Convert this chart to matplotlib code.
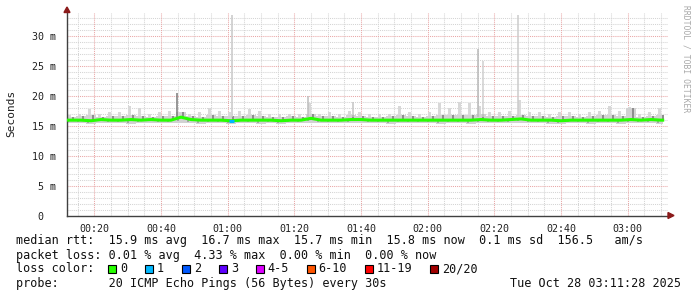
import matplotlib.pyplot as plt
import numpy as np
from matplotlib.patches import Rectangle, Polygon

# ---- data (minutes after midnight, values in ms) ----
bin_start = np.arange(11.5, 191.5, 3)   # 3 minute bins
bin_end_last = 190.5

median = [15.9, 15.9, 15.8, 16.0, 15.9, 15.9, 16.0, 15.9, 16.0, 15.9,
          15.9, 16.4, 16.0, 15.9, 15.9, 15.9, 15.8, 15.9, 15.9, 15.9,
          15.9, 15.8, 15.9, 15.9, 16.2, 15.9, 15.9, 15.9, 16.0, 16.0,
          15.9, 15.9, 15.9, 15.9, 15.9, 15.9, 15.9, 15.9, 15.9, 15.9,
          15.9, 16.0, 15.9, 15.9, 16.0, 16.1, 15.9, 15.9, 15.9, 15.8,
          15.9, 15.9, 15.9, 15.9, 15.9, 15.9, 16.0, 15.9, 16.0, 15.9]

smoke_hi = [16.8, 16.9, 17.7, 17.0, 17.2, 17.3, 18.2, 18.0, 17.0, 17.3,
            17.5, 17.3, 17.0, 17.2, 18.0, 17.5, 17.3, 17.5, 17.7, 17.5,
            17.0, 16.9, 17.0, 17.0, 18.8, 17.0, 17.2, 17.0, 17.4, 17.3,
            17.0, 16.9, 17.0, 18.2, 17.3, 17.0, 17.3, 18.7, 18.0, 18.9,
            18.8, 18.2, 17.3, 17.2, 17.5, 19.3, 17.2, 17.3, 17.0, 17.2,
            17.2, 17.0, 17.3, 17.4, 18.3, 17.4, 18.1, 17.0, 17.2, 18.0]

smoke_mid = [16.5, 16.6, 16.7, 16.5, 16.6, 16.6, 16.7, 16.6, 16.5, 16.6,
             16.6, 17.3, 16.6, 16.5, 16.7, 16.6, 16.6, 16.6, 16.7, 16.6,
             16.5, 16.5, 16.6, 16.5, 16.9, 16.6, 16.6, 16.5, 16.7, 16.6,
             16.5, 16.5, 16.6, 16.7, 16.6, 16.5, 16.6, 16.7, 16.7, 16.8,
             16.7, 16.9, 16.6, 16.6, 16.6, 16.8, 16.6, 16.6, 16.5, 16.6,
             16.6, 16.5, 16.6, 16.7, 16.7, 16.6, 17.9, 16.5, 16.6, 16.7]

smoke_lo = [15.4, 15.4, 15.3, 15.5, 15.4, 15.4, 15.3, 15.4, 15.5, 15.4,
            15.4, 15.5, 15.4, 15.3, 15.4, 15.4, 15.2, 15.4, 15.4, 15.3,
            15.4, 15.3, 15.4, 15.4, 15.5, 15.4, 15.4, 15.4, 15.4, 15.5,
            15.4, 15.4, 15.3, 15.4, 15.4, 15.4, 15.4, 15.3, 15.4, 15.4,
            15.3, 15.4, 15.4, 15.4, 15.4, 15.5, 15.4, 15.4, 15.3, 15.3,
            15.4, 15.4, 15.3, 15.4, 15.4, 15.3, 15.4, 15.4, 15.4, 15.3]

loss = [0] * 60
loss[16] = 1

spike_t = [44.8, 61.3, 84.1, 97.5, 135.0, 136.7, 147.0]
spike_top = [20.5, 33.5, 19.9, 19.0, 27.8, 25.7, 33.5]
spike_col = ['#7a7a7a', '#c8c8c8', '#bdbdbd', '#c4c4c4', '#b8b8b8', '#cfcfcf', '#cccccc']

loss_labels = ['0', '1', '2', '3', '4-5', '6-10', '11-19', '20/20']
loss_colors = ['#26ff00', '#00b8ff', '#0059ff', '#5e00ff', '#dd00ff',
               '#ff5500', '#ff0000', '#a10000']

xmin, xmax = 11.8, 192.1
ymin, ymax = 0, 33.85

W, H = 697, 297
fig = plt.figure(figsize=(W / 100, H / 100), dpi=100)
ax = fig.add_axes([67 / W, (H - 215.5) / H, 601 / W, 203 / H])
ax.set_xlim(xmin, xmax)
ax.set_ylim(ymin, ymax)

# grid
for t in np.arange(15, 192, 5):
    if t % 20 == 0:
        continue
    ax.axvline(t, color='#d4d4d4', lw=0.75, ls=(0, (1, 1)), zorder=0)
for v in range(1, 34):
    if v % 5 == 0:
        continue
    ax.axhline(v, color='#d4d4d4', lw=0.75, ls=(0, (1, 1)), zorder=0)
for t in range(20, 192, 20):
    ax.axvline(t, color='#e9a6a6', lw=0.75, ls=(0, (1, 1)), zorder=0)
for v in range(5, 34, 5):
    ax.axhline(v, color='#e9a6a6', lw=0.75, ls=(0, (1, 1)), zorder=0)

# smoke
xs = np.append(bin_start, bin_end_last)
def ext(a):
    return np.append(a, a[-1])
ax.fill_between(xs, ext(smoke_lo), ext(smoke_mid), step='post',
                color='#d2d2d2', lw=0, zorder=1)
centers = bin_start + 1.5
ax.bar(centers - 0.4, np.array(smoke_hi) - np.array(smoke_mid), width=1.0,
       bottom=smoke_mid, color='#d8d8d8', lw=0, zorder=1)
ax.bar(centers + 0.6, np.array(smoke_mid) - np.array(median), width=0.7,
       bottom=median, color='#8e8e8e', lw=0, zorder=1)
ax.bar(centers - 0.9, np.array(median) - np.array(smoke_lo) - 0.2, width=0.6,
       bottom=np.array(smoke_lo) + 0.2, color='#a6a6a6', lw=0, zorder=1)
for t, top, c in zip(spike_t, spike_top, spike_col):
    ax.plot([t, t], [16.5, top], color=c, lw=1.1, zorder=1,
            solid_capstyle='butt')

# median coloured by loss
mx = np.concatenate([[bin_start[0]], centers, [bin_end_last]])
my = np.concatenate([[median[0]], median, [median[-1]]])
ax.plot(mx, my, color=loss_colors[0], lw=2.2, zorder=3)
for i, l in enumerate(loss):
    if l > 0:
        ax.plot([bin_start[i] + 0.8, bin_start[i] + 2.4], [median[i], median[i]],
                color=loss_colors[l], lw=2.2, zorder=4, solid_capstyle='butt')

# axes styling
for s in ['top', 'right']:
    ax.spines[s].set_visible(False)
for s in ['left', 'bottom']:
    ax.spines[s].set_color('#404040')
    ax.spines[s].set_linewidth(1.0)
ax.spines['bottom'].set_bounds(xmin, xmax - 0.3)

xt = list(range(20, 191, 20))
ax.set_xticks(xt)
ax.set_xticklabels(['%02d:%02d' % (t // 60, t % 60) for t in xt])
yt = list(range(0, 31, 5))
ax.set_yticks(yt)
ax.set_yticklabels(['0  '] + ['%d m' % v for v in yt[1:]])
ax.tick_params(axis='both', length=0, labelsize=7.2, colors='#202020')
ax.tick_params(axis='x', pad=6)
ax.tick_params(axis='y', pad=8)
for lab in ax.get_xticklabels() + ax.get_yticklabels():
    lab.set_family('DejaVu Sans Mono')

# arrows
fig.patches.append(Polygon([[64 / W, 1 - 12.5 / H], [70 / W, 1 - 12.5 / H],
                            [67 / W, 1 - 7 / H]], closed=True,
                           transform=fig.transFigure, color='#8b1a1a'))
fig.patches.append(Polygon([[668 / W, 1 - 212.5 / H], [668 / W, 1 - 218.5 / H],
                            [674 / W, 1 - 215.5 / H]], closed=True,
                           transform=fig.transFigure, color='#8b1a1a'))

fig.text(11 / W, 1 - 113 / H, 'Seconds', rotation=90, ha='center', va='center',
         family='DejaVu Sans Mono', fontsize=8, color='#202020')
fig.text(686 / W, 1 - 5 / H, 'RRDTOOL / TOBI OETIKER', rotation=-90,
         ha='center', va='top', family='DejaVu Sans Mono', fontsize=5.8,
         color='#a8a8a8')

# legend text
mono = dict(family='DejaVu Sans Mono', fontsize=8.5, color='#101010', va='center')
cw = 7.12
fig.text(16 / W, 1 - 240.7 / H,
         'median rtt:  15.9 ms avg  16.7 ms max  15.7 ms min  15.8 ms now  '
         '0.1 ms sd  156.5   am/s', **mono)
fig.text(16 / W, 1 - 255 / H,
         'packet loss: 0.01 % avg  4.33 % max  0.00 % min  0.00 % now', **mono)
fig.text(16 / W, 1 - 269 / H, 'loss color:', **mono)
fig.text(16 / W, 1 - 283.3 / H,
         'probe:       20 ICMP Echo Pings (56 Bytes) every 30s', **mono)
fig.text(681 / W, 1 - 283.3 / H, 'Tue Oct 28 03:11:28 2025', ha='right', **mono)

x = 16 + 13 * cw - 0.3
for lab, col in zip(loss_labels, loss_colors):
    fig.patches.append(Rectangle((x / W, 1 - 273 / H), 8 / W, 8 / H,
                                 transform=fig.transFigure, facecolor=col,
                                 edgecolor='black', lw=0.8))
    fig.text((x + 12) / W, 1 - 269 / H, lab, **mono)
    x += 11.7 + len(lab) * cw + 18

fig.savefig('out.png', dpi=100, facecolor='white')
